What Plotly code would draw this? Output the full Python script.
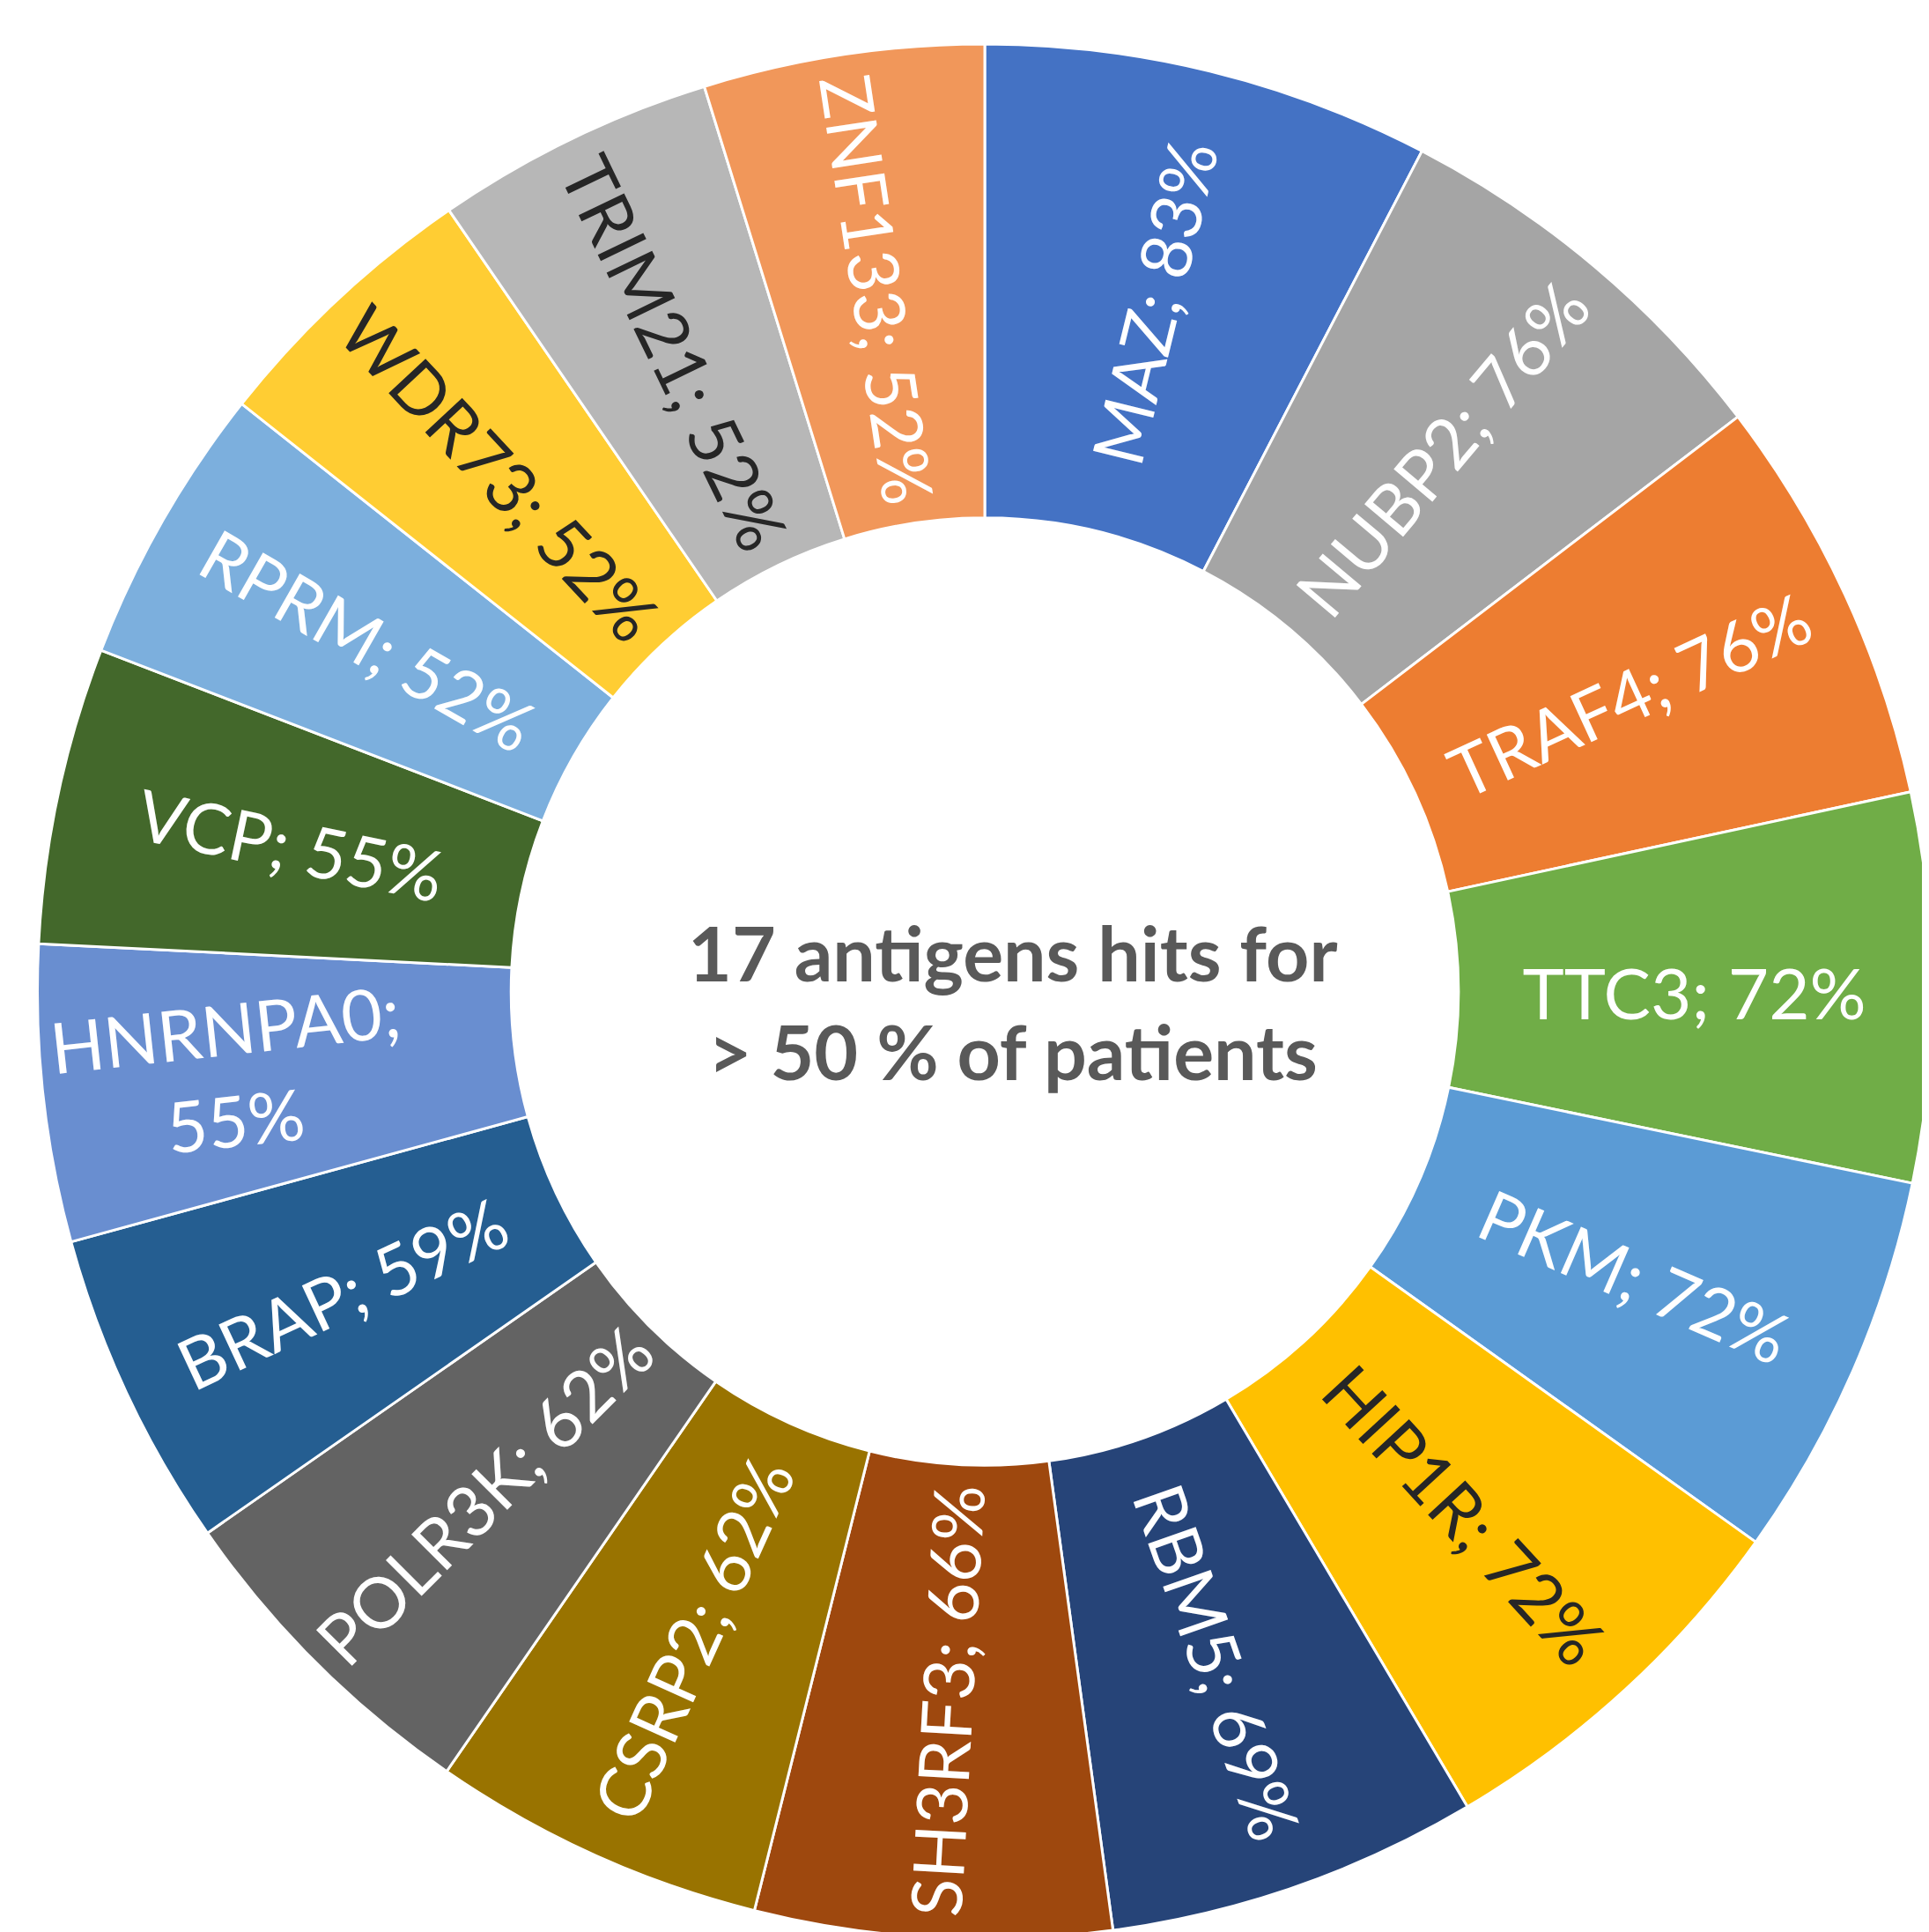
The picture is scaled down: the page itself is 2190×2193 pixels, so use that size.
import plotly.graph_objects as go

genes = ["MAZ", "NUBP2", "TRAF4", "TTC3", "PKM", "HIP1R", "RBM5", "SH3RF3",
         "CSRP2", "POLR3K", "BRAP", "HNRNPA0", "VCP", "RPRM", "WDR73", "TRIM21", "ZNF133"]
percent = [83, 76, 76, 72, 72, 72, 69, 66, 62, 62, 59, 55, 55, 52, 52, 52, 52]
colors = ["#4472C4", "#A5A5A5", "#ED7D31", "#70AD47", "#5B9BD5", "#FFC000", "#264478",
          "#9E480E", "#997300", "#636363", "#255E91", "#698ED0", "#43682B", "#7CAFDD",
          "#FFCD33", "#B7B7B7", "#F1975A"]
text_colors = ["white", "white", "white", "white", "white", "#262626", "white", "white",
               "white", "white", "white", "white", "white", "white", "#262626", "#262626", "white"]
center_text = "17 antigens hits for<br>> 50 % of patients"

labels_txt = []
for g, v in zip(genes, percent):
    if g == "HNRNPA0":
        labels_txt.append(f"{g};<br>{v}%")
    else:
        labels_txt.append(f"{g}; {v}%")

W, H = 2190, 2193
fig = go.Figure(go.Pie(
    labels=genes,
    values=percent,
    text=labels_txt,
    textinfo="text",
    textposition="inside",
    insidetextorientation="radial",
    sort=False,
    direction="clockwise",
    rotation=0,
    hole=0.5,
    marker=dict(colors=colors, line=dict(color="white", width=3)),
    textfont=dict(family="Lato, Open Sans, sans-serif", size=80, color=text_colors),
    domain=dict(x=[30 / W, 1.0], y=[0, 1 - 42 / H]),
    showlegend=False,
    hoverinfo="label+value",
))

fig.add_annotation(
    text=center_text, x=1142 / W, y=1 - 1128 / H, xref="paper", yref="paper",
    showarrow=False, xanchor="center", yanchor="middle",
    font=dict(family="Lato, Open Sans, sans-serif", size=86, color="#595959", weight="bold"),
)

fig.update_layout(
    width=W, height=H,
    margin=dict(l=0, r=0, t=0, b=0),
    paper_bgcolor="white",
    plot_bgcolor="white",
    uniformtext=dict(minsize=80, mode="show"),
)

fig.write_html("out.html")
